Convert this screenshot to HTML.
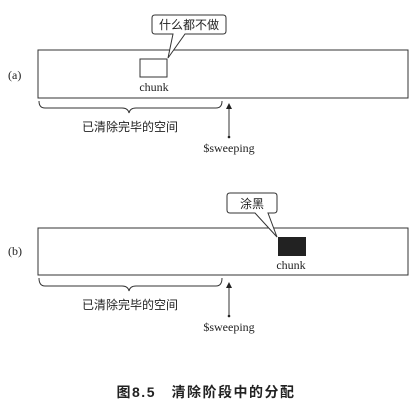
<!DOCTYPE html>
<html><head><meta charset="utf-8"><style>body{margin:0;background:#fff}</style></head><body>
<svg width="418" height="406" xmlns="http://www.w3.org/2000/svg" font-family="Liberation Serif, Noto Serif CJK SC, serif" fill="#222">
<defs><marker id="ah" markerWidth="6" markerHeight="6" refX="3" refY="3" orient="auto"><path d="M0,0 L6,3 L0,6 z" fill="#222"/></marker></defs>
<g stroke="#333" fill="none" stroke-width="1">
<rect x="38" y="50" width="370" height="48"/>
<rect x="140" y="59" width="27" height="18"/>
<path d="M155,15 H223 Q226,15 226,18 V31 Q226,34 223,34 H185 L168,58 L173,34 H155 Q152,34 152,31 V18 Q152,15 155,15 Z" fill="#fff"/>
<path d="M39,101 Q39,108 45,108 H122 Q128,108 129,113 Q130,108 136,108 H216 Q222,108 222,101"/>
<line x1="229" y1="137" x2="229" y2="106" marker-end="url(#ah)"/>
<rect x="38" y="228" width="370" height="47"/>
<path d="M230,193 H274 Q277,193 277,196 V210 Q277,213 274,213 H268 L277,237 L255,213 H230 Q227,213 227,210 V196 Q227,193 230,193 Z" fill="#fff"/>
<path d="M39,278 Q39,286 45,286 H122 Q128,286 129,291 Q130,286 136,286 H216 Q222,286 222,278"/>
<line x1="229" y1="316" x2="229" y2="285" marker-end="url(#ah)"/>
</g>
<circle cx="229" cy="137" r="1.3"/><circle cx="229" cy="316" r="1.3"/>
<rect x="278" y="237" width="28" height="19" fill="#222"/>
<g font-size="12">
<text x="8" y="79">(a)</text>
<text x="8" y="255">(b)</text>
<text x="154" y="91" text-anchor="middle">chunk</text>
<text x="291" y="269" text-anchor="middle">chunk</text>
<text x="229" y="152" text-anchor="middle">$sweeping</text>
<text x="229" y="331" text-anchor="middle">$sweeping</text>
</g>
<g font-size="12" font-family="Liberation Sans, Noto Sans CJK SC, sans-serif">
<text x="189" y="29" text-anchor="middle">什么都不做</text>
<text x="252" y="208" text-anchor="middle">涂黑</text>
<text x="130" y="131" text-anchor="middle">已清除完毕的空间</text>
<text x="130" y="309" text-anchor="middle">已清除完毕的空间</text>
<text x="206" y="397" text-anchor="middle" font-weight="bold" font-size="14" letter-spacing="1.5">图8.5　清除阶段中的分配</text>
</g>
</svg>
</body></html>
